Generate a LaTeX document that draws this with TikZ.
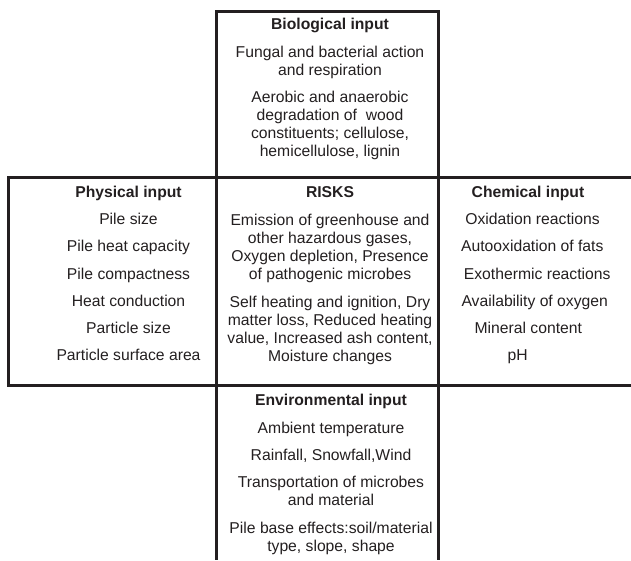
\documentclass[tikz,border=0pt]{standalone}
\usepackage{fontspec}
\setmainfont{Liberation Sans}
\definecolor{ink}{HTML}{231F20}
\begin{document}
\begin{tikzpicture}[x=1pt,y=-1pt,
    item/.style={anchor=base,align=center,inner sep=0pt,text=ink,font=\fontsize{15.7}{18}\selectfont},
    head/.style={item,font=\fontsize{15.7}{18}\selectfont\bfseries},
    frame/.style={draw=ink,line width=3pt}]

    \useasboundingbox (0,0) rectangle (631,560);

    % frames
    \draw[frame] (216,11) rectangle (438,177);
    \draw[frame] (8,177) rectangle (216,385);
    \draw[frame] (216,177) -- (631,177) (216,385) -- (631,385);
    \draw[frame] (438,177) -- (438,560) (216,385) -- (216,560);

    % biological (multi-line items sit on their last baseline)
    \node[head] (bio) at (330,29) {Biological input};
    \node[item] (bio1) at (330,75) {Fungal and bacterial action\\and respiration};
    \node[item] (bio2) at (330,156) {Aerobic and anaerobic\\degradation of ~wood\\constituents; cellulose,\\hemicellulose, lignin};

    % physical
    \node[head] (phy) at (128.5,197) {Physical input};
    \node[item] (phy1) at (128.5,224) {Pile size};
    \node[item] (phy2) at (128.5,251.5) {Pile heat capacity};
    \node[item] (phy3) at (128.5,279) {Pile compactness};
    \node[item] (phy4) at (128.5,306) {Heat conduction};
    \node[item] (phy5) at (128.5,333.5) {Particle size};
    \node[item] (phy6) at (128.5,360.5) {Particle surface area};

    % risks
    \node[head] (risk) at (330,197) {RISKS};
    \node[item] (risk1) at (330,279) {Emission of greenhouse and\\other hazardous gases,\\Oxygen depletion, Presence\\of pathogenic microbes};
    \node[item] (risk2) at (330,361) {Self heating and ignition, Dry\\matter loss, Reduced heating\\value, Increased ash content,\\Moisture changes};

    % chemical
    \node[head] (chem) at (528,197) {Chemical input};
    \node[item] (chem1) at (532.5,224) {Oxidation reactions};
    \node[item] (chem2) at (532.3,251.5) {Autooxidation of fats};
    \node[item] (chem3) at (537.2,279) {Exothermic reactions};
    \node[item] (chem4) at (534.7,306) {Availability of oxygen};
    \node[item] (chem5) at (528.3,333.5) {Mineral content};
    \node[item] (chem6) at (517.7,360.5) {pH};

    % environmental
    \node[head] (env) at (331,405) {Environmental input};
    \node[item] (env1) at (331,433) {Ambient temperature};
    \node[item] (env2) at (331,460) {Rainfall, Snowfall,Wind};
    \node[item] (env3) at (331,505) {Transportation of microbes\\and material};
    \node[item] (env4) at (331,551) {Pile base effects:soil/material\\type, slope, shape};
\end{tikzpicture}
\end{document}
